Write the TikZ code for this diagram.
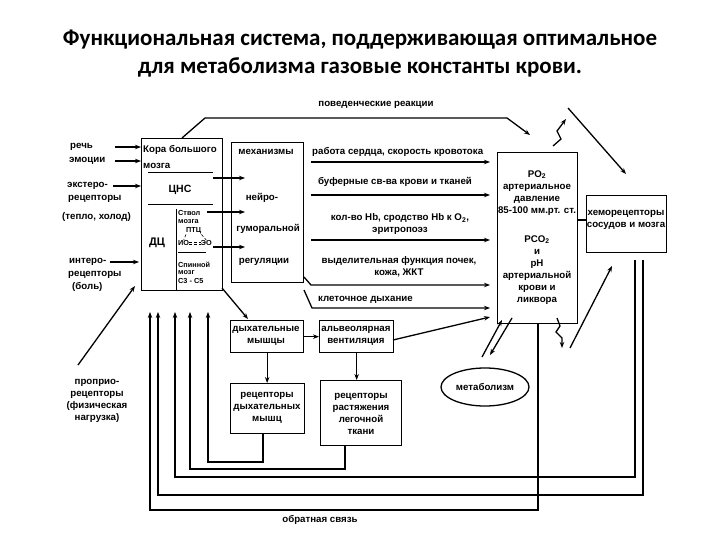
\documentclass[tikz,border=0pt]{standalone}
\usepackage{fontspec}
\setmainfont{Liberation Sans}
\newfontfamily\titlefont{Carlito}
\usetikzlibrary{arrows.meta,shapes.geometric}

\begin{document}
\begin{tikzpicture}[x=1pt,y=-1pt,
  box/.style={draw, line width=1.3pt, anchor=north west, inner sep=0pt},
  lbl/.style={font=\fontsize{9.7}{12}\selectfont\bfseries, inner sep=0pt, align=center},
  lbll/.style={lbl, align=left, anchor=west},
  small/.style={font=\fontsize{7.3}{8.5}\selectfont\bfseries, inner sep=0pt, align=left, anchor=west},
  conn/.style={line width=1.3pt},
  arr/.style={conn, -{Stealth[length=6pt,width=4.5pt]}},
  fb/.style={line width=1.8pt, -{Stealth[length=6pt,width=4.5pt]}},
  sep/.style={line width=1pt},
]
\useasboundingbox (0,0) rectangle (720,540);

% title
\node[font=\titlefont\bfseries\fontsize{23}{28}\selectfont, align=center, inner sep=0pt] (title) at (360,54)
  {Функциональная система, поддерживающая оптимальное\\для метаболизма газовые константы крови.};

% boxes
\node[box, minimum width=81pt, minimum height=152pt] (cns) at (141,138) {};
\node[box, minimum width=72pt, minimum height=140pt] (mech) at (231,142) {};
\node[box, minimum width=80pt, minimum height=171pt] (po2) at (497,152) {};
\node[box, minimum width=80pt, minimum height=57pt] (chemo) at (586,195) {};
\node[box, minimum width=73pt, minimum height=32pt] (dm) at (230,320) {};
\node[box, minimum width=74pt, minimum height=32pt] (av) at (319,320) {};
\node[box, minimum width=74pt, minimum height=50pt] (rdm) at (230,383) {};
\node[box, minimum width=81pt, minimum height=65pt] (rrl) at (320,380) {};
\node[draw, ellipse, line width=1.3pt, minimum width=88pt, minimum height=38pt, inner sep=0pt, lbl] (metab) at (485,387) {метаболизм};

% CNS box contents
\node[lbll] (kora) at (143,150) {Кора большого};
\node[lbll] (kora2) at (143,166) {мозга};
\node[lbl, font=\fontsize{10.5}{12}\selectfont\bfseries] (cnst) at (180,190) {ЦНС};
\node[lbl, font=\fontsize{11}{12}\selectfont\bfseries] (dc) at (157,243) {ДЦ};
\draw[sep] (148,173) coordinate (s1a) -- (213,173) coordinate (s1b);
\draw[sep] (148,205) coordinate (s2a) -- (213,205) coordinate (s2b);
\draw[sep] (176,209) coordinate (v1a) -- (176,290) coordinate (v1b);
\draw[sep] (178,252) coordinate (s3a) -- (206,252) coordinate (s3b);
\node[small] (stv) at (178,213) {Ствол};
\node[small] (stv2) at (178,222) {мозга};
\node[small] (ptc) at (186,231) {ПТЦ};
\node[small] (io) at (178,243) {ИО};
\node[small, anchor=east] (eo) at (212,243) {ЭО};
\draw[densely dashed, line width=0.6pt] ([yshift=1pt]io.east) -- ([yshift=1pt]eo.west);
\draw[densely dashed, line width=0.6pt] ([yshift=-1pt]io.east) -- ([yshift=-1pt]eo.west);
\draw[densely dashed, line width=0.6pt] (ptc.south west) -- (io.north);
\draw[densely dashed, line width=0.6pt] (ptc.south east) -- (eo.north);
\node[small] (spm) at (178,265) {Спинной};
\node[small] (spm2) at (178,273) {мозг};
\node[small] (spm3) at (178,281) {С3 - С5};

% mechanisms contents
\node[lbl] (m1) at (266,152) {механизмы};
\node[lbl] (m2) at (262,198) {нейро-};
\node[lbl] (m3) at (268,229) {гуморальной};
\node[lbl] (m4) at (264,262) {регуляции};

% PO2 box contents
\node[lbl] (p1) at (537,193) {PO\textsubscript{2}\\артериальное\\давление\\85-100 мм.рт. ст.};
\node[lbl] (p2) at (537,270) {PCO\textsubscript{2}\\и\\pH\\артериальной\\крови и\\ликвора};

% chemo
\node[lbl] (c1) at (626,220) {хеморецепторы\\сосудов и мозга};

% small boxes contents
\node[lbl] (dmt) at (266,336) {дыхательные\\мышцы};
\node[lbl] (avt) at (356,336) {альвеолярная\\вентиляция};
\node[lbl] (rdmt) at (267,408) {рецепторы\\дыхательных\\мышц};
\node[lbl] (rrlt) at (361,414) {рецепторы\\растяжения\\легочной\\ткани};

% arrow labels
\node[lbl] (beh) at (376,105) {поведенческие реакции};
\node[lbll] (l1) at (312,152) {работа сердца, скорость кровотока};
\node[lbl] (l2) at (395,182) {буферные св-ва крови и тканей};
\node[lbl] (l3) at (400,224) {кол-во Hb, сродство Hb к O\textsubscript{2},\\эритропоэз};
\node[lbl] (l4) at (399,267) {выделительная функция почек,\\кожа, ЖКТ};
\node[lbll] (l5) at (318,300) {клеточное дыхание};

% left labels
\node[lbll] (rech) at (70,147) {речь};
\node[lbll] (emo) at (69,161) {эмоции};
\node[lbll] (ext1) at (67,186) {экстеро-};
\node[lbll] (ext2) at (68,199) {рецепторы};
\node[lbll] (ext3) at (62,217) {(тепло, холод)};
\node[lbll] (int1) at (69,262) {интеро-};
\node[lbll] (int2) at (68,275) {рецепторы};
\node[lbll] (int3) at (72,287) {(боль)};
\node[lbl] (prop) at (97,401) {проприо-\\рецепторы\\(физическая\\нагрузка)};
\node[lbl] (fbt) at (320,520) {обратная связь};

% coordinates
\coordinate (rech-s) at (115,147);
\coordinate (emo-s) at (115,161);
\coordinate (ext-s) at (113,186);
\coordinate (int-s) at (110,262);
\coordinate (int-e) at (139,262);
\coordinate (prop-s) at (78,365);
\coordinate (prop-e) at (135,286);
\coordinate (beh-s) at (182,138);
\coordinate (beh-1) at (205,118);
\coordinate (beh-2) at (507,118);
\coordinate (beh-e) at (530,135);

% left inputs
\draw[arr] (rech-s) -- (rech-s -| cns.west);
\draw[arr] (emo-s) -- (emo-s -| cns.west);
\draw[arr] (ext-s) -- (ext-s -| cns.west);
\draw[arr] (int-s) -- (int-e);
\draw[arr] (prop-s) -- (prop-e);

% behavioural
\draw[arr] (beh-s) -- (beh-1) -- (beh-2) -- (beh-e);

% CNS -> mechanisms
\coordinate (cm1) at (213,178); \coordinate (cm1e) at (245,178);
\coordinate (cm2) at (207,212); \coordinate (cm2e) at (245,212);
\coordinate (cm3) at (213,247); \coordinate (cm3e) at (245,247);
\draw[arr] (cm1) -- (cm1e);
\draw[arr] (cm2) -- (cm2e);
\draw[arr] (cm3) -- (cm3e);

% mechanisms -> PO2
\coordinate (a1) at (311,162); \coordinate (a1e) at (490,162);
\coordinate (a2) at (311,195); \coordinate (a2e) at (490,195);
\coordinate (a3) at (311,240); \coordinate (a3e) at (490,240);
\coordinate (a4s) at (304,277); \coordinate (a4) at (311,285); \coordinate (a4e) at (490,285);
\coordinate (a5s) at (304,290); \coordinate (a5) at (312,308); \coordinate (a5e) at (490,308);
\draw[arr] (a1) -- (a1e);
\draw[arr] (a2) -- (a2e);
\draw[arr] (a3) -- (a3e);
\draw[arr] (a4s) -- (a4) -- (a4e);
\draw[arr] (a5s) -- (a5) -- (a5e);

% CNS -> respiratory muscles
\coordinate (cd1) at (222,288); \coordinate (cd1e) at (248,319);
\draw[arr] (cd1) -- (cd1e);
\draw[arr] (dm.east) -- (av.west);
\coordinate (av-o) at (393,340); \coordinate (av-e) at (490,317);
\draw[arr] (av-o) -- (av-e);
\draw[arr] (dm.south) -- (dm.south |- rdm.north);
\draw[arr] (av.south) -- (av.south |- rrl.north);

% PO2 <-> metabolism
\coordinate (mu1) at (482,357); \coordinate (mu1e) at (502,320);
\coordinate (md1) at (512,318); \coordinate (md1e) at (490,355);
\draw[arr] (mu1) -- (mu1e);
\draw[arr] (md1) -- (md1e);

% PO2 - chemo
\coordinate (pc) at (577,220);
\draw[conn] (pc) -- (pc -| chemo.west);

% zigzags
\coordinate (z1) at (553,146);
\coordinate (z1e) at (566,119);
\draw[arr] (z1) -- (561,139) -- (557,131) -- (z1e);
\coordinate (d1) at (568,108); \coordinate (d1e) at (626,174);
\draw[arr] (d1) -- (d1e);
\coordinate (z2) at (557,318); \coordinate (z2e) at (562,348);
\draw[arr] (z2) -- (560,326) -- (556,332) -- (562,338) -- (z2e);
\coordinate (d2) at (570,348); \coordinate (d2e) at (612,266);
\draw[arr] (d2) -- (d2e);

% feedback loops
\coordinate (f1s) at (538,323);
\draw[fb] (f1s) -- (538,510) -- (150,510) -- (150,312);
\coordinate (f2s) at (643,260);
\draw[fb] (f2s) -- (643,495) -- (158,495) -- (158,312);
\coordinate (f3s) at (635,260);
\draw[fb] (f3s) -- (635,477) -- (175,477) -- (175,312);
\draw[fb] (345,445) coordinate (f4s) -- (345,469) -- (190,469) -- (190,312);
\draw[fb] (263,433) coordinate (f5s) -- (263,462) -- (208,462) -- (208,312);

\end{tikzpicture}
\end{document}
